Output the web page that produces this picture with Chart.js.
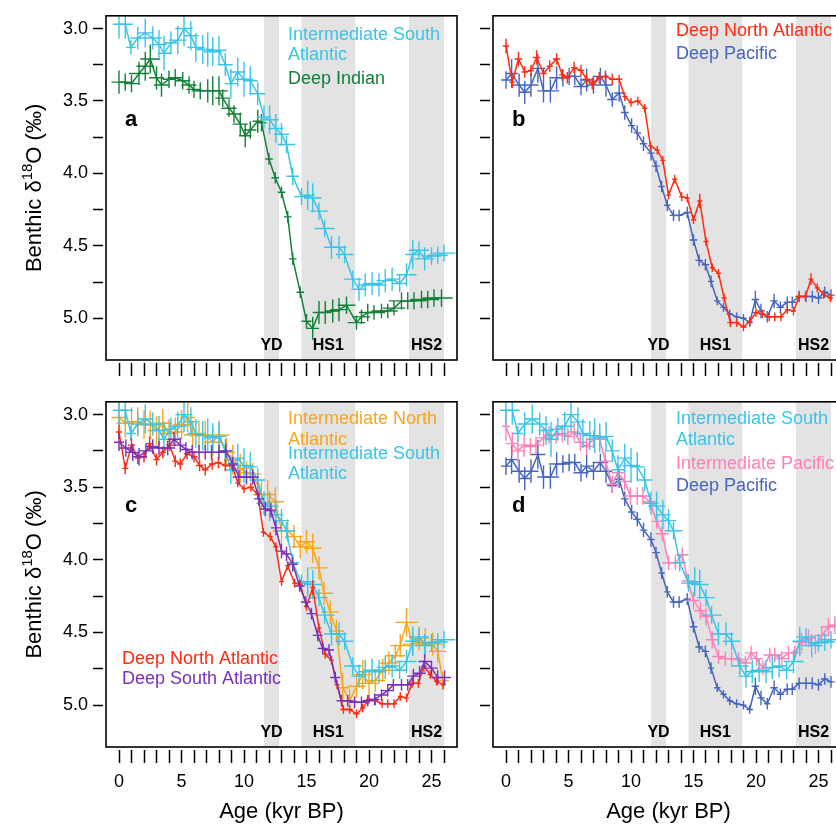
<!DOCTYPE html>
<html>
<head>
<meta charset="utf-8">
<script src="https://cdn.jsdelivr.net/npm/chart.js@4"></script>
<style>
  html, body { margin: 0; padding: 0; background: #fff; overflow: hidden; width: 836px; height: 827px; }
  canvas { position: absolute; }
</style>
</head>
<body>
<canvas id="pa" width="470" height="386" style="left:0;top:0"></canvas>
<canvas id="pb" width="390" height="386" style="left:470px;top:0"></canvas>
<canvas id="pc" width="470" height="441" style="left:0;top:386px"></canvas>
<canvas id="pd" width="390" height="441" style="left:470px;top:386px"></canvas>
<script>
const FONT = "'Liberation Sans', Arial, Helvetica, sans-serif"
Chart.defaults.font.family = FONT
Chart.defaults.color = '#000'

// axes
const xTicks = [0, 1, 2, 3, 4, 5, 6, 7, 8, 9, 10, 11, 12, 13, 14, 15, 16, 17, 18, 19, 20, 21, 22, 23, 24, 25, 26]
const yTicks = [3.0, 3.25, 3.5, 3.75, 4.0, 4.25, 4.5, 4.75, 5.0]
const xMin = -1.04, xMax = 27.04
const yMin = 2.912, yMax = 5.288
const xTitle = 'Age (kyr BP)'
const yTitle = ['Benthic \u03b4', '18', 'O (\u2030)']

// climate events, kyr BP
const bandNames = ['YD', 'HS1', 'HS2']
const bandStart = [11.6, 14.6, 23.2]
const bandEnd = [12.8, 18.9, 26.0]

// Intermediate South Atlantic
const isaLabel = ['Intermediate South', 'Atlantic']
const isaAge = [0, 0.5, 0.95, 1.5, 2.1, 2.7, 3.2, 3.6, 4.15, 4.7, 5.2, 5.75, 6.15, 6.7, 7.1, 7.5, 8.0, 8.5, 8.95, 9.5, 10.0, 10.5, 11.1, 11.6, 12.05, 12.55, 13.0, 13.4, 13.9, 14.6, 15.1, 15.5, 16.0, 16.45, 17.0, 17.6, 18.05, 18.7, 19.2, 19.7, 20.25, 20.8, 21.3, 21.85, 22.45, 23.0, 23.5, 24.0, 24.45, 25.0, 25.5, 26.0]
const isaD18O = [2.97, 2.97, 3.13, 3.065, 3.03, 3.065, 3.11, 3.17, 3.10, 3.08, 3.0, 3.05, 3.13, 3.145, 3.145, 3.16, 3.15, 3.25, 3.38, 3.30, 3.35, 3.36, 3.45, 3.61, 3.63, 3.69, 3.73, 3.80, 4.02, 4.16, 4.15, 4.17, 4.26, 4.38, 4.51, 4.51, 4.56, 4.73, 4.80, 4.77, 4.76, 4.77, 4.74, 4.73, 4.76, 4.70, 4.56, 4.53, 4.59, 4.57, 4.565, 4.55]
const isaAgeErr = [0.5, 0.6, 0.4, 0.6, 0.6, 0.7, 0.6, 0.5, 0.6, 0.7, 0.7, 0.6, 0.7, 0.6, 0.5, 0.7, 0.6, 0.6, 0.5, 0.6, 0.7, 0.6, 0.6, 0.6, 0.7, 0.6, 0.6, 0.7, 0.5, 0.6, 0.6, 0.7, 0.7, 0.8, 0.6, 0.6, 0.7, 0.7, 0.6, 0.6, 0.7, 0.6, 0.7, 0.6, 0.6, 0.8, 0.6, 0.8, 0.8, 0.8, 0.8, 0.9]
const isaD18OErr = [0.1, 0.1, 0.05, 0.08, 0.1, 0.08, 0.1, 0.12, 0.08, 0.1, 0.12, 0.1, 0.1, 0.1, 0.12, 0.1, 0.1, 0.08, 0.1, 0.1, 0.12, 0.1, 0.08, 0.08, 0.1, 0.1, 0.08, 0.06, 0.06, 0.06, 0.1, 0.1, 0.06, 0.06, 0.08, 0.08, 0.06, 0.06, 0.08, 0.08, 0.08, 0.08, 0.08, 0.08, 0.06, 0.08, 0.1, 0.06, 0.08, 0.06, 0.06, 0.06]

// Deep Indian
const diLabel = ['Deep Indian']
const diAge = [0, 0.5, 1.0, 1.6, 2.1, 2.5, 3.0, 3.4, 4.0, 4.5, 5.1, 5.6, 6.0, 6.5, 7.1, 7.5, 8.0, 8.3, 8.8, 9.2, 9.7, 10.1, 10.5, 11.1, 11.4, 12.0, 12.5, 13.0, 13.5, 13.9, 14.5, 15.0, 15.5, 16.0, 16.5, 17.1, 17.6, 18.2, 19.0, 19.4, 19.9, 20.4, 21.0, 21.5, 22.0, 22.6, 23.1, 23.6, 24.2, 24.7, 25.2, 25.8]
const diD18O = [3.37, 3.37, 3.38, 3.31, 3.26, 3.21, 3.34, 3.39, 3.35, 3.34, 3.36, 3.39, 3.42, 3.43, 3.43, 3.43, 3.43, 3.48, 3.55, 3.59, 3.66, 3.74, 3.70, 3.64, 3.65, 3.90, 4.03, 4.13, 4.30, 4.59, 4.82, 5.02, 5.07, 4.96, 4.96, 4.95, 4.94, 4.91, 5.03, 4.99, 4.96, 4.96, 4.95, 4.95, 4.93, 4.88, 4.88, 4.88, 4.87, 4.87, 4.86, 4.86]
const diAgeErr = [0.6, 0.6, 0.6, 0.8, 0.7, 0.8, 0.6, 0.6, 0.5, 0.6, 0.6, 0.6, 0.6, 0.7, 0.7, 0.7, 0.7, 0.6, 0.6, 0.6, 0.6, 0.5, 0.5, 0.4, 0.4, 0.3, 0.3, 0.3, 0.3, 0.3, 0.3, 0.4, 0.5, 0.5, 0.5, 0.6, 0.7, 0.7, 0.7, 0.7, 0.7, 0.9, 0.8, 0.8, 0.9, 1.0, 1.0, 1.0, 0.9, 0.9, 0.9, 0.9]
const diD18OErr = [0.08, 0.06, 0.06, 0.08, 0.1, 0.1, 0.08, 0.08, 0.06, 0.06, 0.06, 0.06, 0.06, 0.06, 0.08, 0.1, 0.1, 0.06, 0.06, 0.06, 0.08, 0.08, 0.06, 0.08, 0.06, 0.04, 0.04, 0.04, 0.04, 0.04, 0.04, 0.05, 0.08, 0.08, 0.08, 0.08, 0.08, 0.06, 0.05, 0.05, 0.06, 0.05, 0.05, 0.05, 0.05, 0.06, 0.06, 0.06, 0.06, 0.06, 0.06, 0.06]

// Deep North Atlantic
const dnaLabel = ['Deep North Atlantic']
const dnaAge = [0, 0.5, 1.0, 1.5, 2.0, 2.45, 3.0, 3.5, 4.05, 4.5, 4.9, 5.45, 6.0, 6.45, 6.9, 7.45, 7.95, 8.5, 9.05, 9.5, 10.0, 10.55, 11.1, 11.55, 12.1, 12.55, 13.0, 13.5, 14.05, 14.5, 15.0, 15.5, 16.0, 16.5, 17.0, 17.45, 17.95, 18.45, 19.0, 19.5, 20.0, 20.5, 21.05, 21.5, 22.0, 22.5, 23.0, 23.45, 23.95, 24.4, 24.9, 25.4, 25.95]
const dnaD18O = [3.12, 3.37, 3.21, 3.30, 3.29, 3.20, 3.31, 3.26, 3.21, 3.32, 3.34, 3.27, 3.29, 3.35, 3.38, 3.34, 3.33, 3.35, 3.35, 3.47, 3.51, 3.50, 3.55, 3.81, 3.84, 3.91, 4.15, 4.04, 4.16, 4.17, 4.32, 4.19, 4.47, 4.65, 4.69, 4.86, 5.03, 5.03, 5.06, 5.02, 4.96, 4.97, 4.99, 4.99, 4.99, 4.94, 4.95, 4.85, 4.85, 4.73, 4.79, 4.835, 4.86]
const dnaAgeErr = [0.25, 0.25, 0.3, 0.25, 0.25, 0.3, 0.25, 0.25, 0.3, 0.25, 0.25, 0.25, 0.25, 0.3, 0.25, 0.25, 0.25, 0.25, 0.25, 0.2, 0.2, 0.25, 0.2, 0.2, 0.2, 0.2, 0.2, 0.2, 0.2, 0.2, 0.2, 0.2, 0.2, 0.2, 0.2, 0.2, 0.25, 0.25, 0.25, 0.2, 0.25, 0.25, 0.25, 0.25, 0.25, 0.2, 0.2, 0.25, 0.2, 0.2, 0.2, 0.2, 0.2]
const dnaD18OErr = [0.05, 0.04, 0.05, 0.04, 0.04, 0.05, 0.04, 0.04, 0.04, 0.04, 0.04, 0.04, 0.04, 0.04, 0.04, 0.04, 0.04, 0.04, 0.03, 0.03, 0.03, 0.03, 0.03, 0.03, 0.03, 0.03, 0.03, 0.03, 0.03, 0.03, 0.03, 0.05, 0.03, 0.03, 0.03, 0.03, 0.03, 0.03, 0.03, 0.03, 0.03, 0.03, 0.03, 0.03, 0.03, 0.03, 0.03, 0.03, 0.03, 0.04, 0.03, 0.03, 0.03]

// Deep Pacific
const dpLabel = ['Deep Pacific']
const dpAge = [0, 0.45, 1.05, 1.5, 2.0, 2.55, 3.0, 3.55, 4.05, 4.55, 5.05, 5.5, 6.0, 6.45, 7.0, 7.55, 8.0, 8.5, 9.05, 9.5, 10.05, 10.5, 11.0, 11.6, 12.0, 12.45, 12.9, 13.4, 13.85, 14.5, 15.0, 15.45, 15.95, 16.4, 16.9, 17.4, 17.9, 18.45, 19.0, 19.5, 19.95, 20.4, 20.9, 21.45, 21.95, 22.5, 22.9, 23.45, 24.0, 24.5, 25.0, 25.5, 26.0]
const dpD18O = [3.355, 3.31, 3.39, 3.44, 3.39, 3.275, 3.43, 3.43, 3.34, 3.34, 3.33, 3.33, 3.40, 3.355, 3.39, 3.33, 3.39, 3.49, 3.445, 3.58, 3.67, 3.72, 3.795, 3.86, 3.95, 4.09, 4.22, 4.29, 4.29, 4.27, 4.46, 4.60, 4.63, 4.745, 4.88, 4.925, 4.97, 4.99, 5.0, 5.03, 4.87, 4.95, 4.99, 4.88, 4.925, 4.89, 4.89, 4.85, 4.85, 4.85, 4.86, 4.82, 4.84]
const dpAgeErr = [0.4, 0.5, 0.6, 0.5, 0.6, 0.6, 0.5, 0.7, 0.6, 0.6, 0.6, 0.5, 0.6, 0.5, 0.6, 0.6, 0.5, 0.4, 0.4, 0.3, 0.3, 0.3, 0.3, 0.3, 0.3, 0.25, 0.25, 0.3, 0.3, 0.3, 0.3, 0.3, 0.3, 0.25, 0.25, 0.25, 0.25, 0.25, 0.25, 0.25, 0.3, 0.3, 0.25, 0.3, 0.3, 0.3, 0.3, 0.3, 0.3, 0.3, 0.3, 0.3, 0.3]
const dpD18OErr = [0.06, 0.1, 0.08, 0.08, 0.08, 0.1, 0.08, 0.08, 0.08, 0.06, 0.06, 0.06, 0.06, 0.08, 0.06, 0.06, 0.08, 0.05, 0.06, 0.05, 0.05, 0.05, 0.05, 0.05, 0.04, 0.04, 0.04, 0.04, 0.04, 0.04, 0.04, 0.04, 0.04, 0.04, 0.03, 0.03, 0.03, 0.03, 0.03, 0.03, 0.06, 0.05, 0.04, 0.05, 0.04, 0.04, 0.04, 0.04, 0.04, 0.04, 0.04, 0.04, 0.04]

// Intermediate North Atlantic
const inaLabel = ['Intermediate North', 'Atlantic']
const inaAge = [0, 0.5, 1.0, 1.5, 2.0, 2.5, 3.0, 3.5, 4.0, 4.5, 5.0, 5.5, 5.9, 6.4, 6.9, 7.5, 8.0, 8.6, 9.1, 9.7, 10.2, 10.7, 11.4, 11.9, 12.5, 13.0, 13.5, 14.0, 14.5, 15.0, 15.5, 16.0, 16.4, 16.9, 17.4, 17.9, 18.45, 19.0, 19.5, 20.0, 20.5, 21.1, 21.6, 22.1, 22.5, 23.0, 23.5, 24.0, 24.5, 25.1, 25.5, 25.9]
const inaD18O = [3.02, 3.06, 3.05, 3.05, 3.07, 3.07, 3.11, 3.06, 3.13, 3.12, 3.07, 3.02, 3.14, 3.14, 3.14, 3.19, 3.14, 3.26, 3.31, 3.37, 3.40, 3.41, 3.55, 3.55, 3.60, 3.80, 3.80, 3.84, 3.91, 3.875, 3.92, 4.055, 4.23, 4.36, 4.49, 4.88, 4.97, 4.87, 4.79, 4.85, 4.83, 4.76, 4.71, 4.66, 4.59, 4.43, 4.58, 4.54, 4.57, 4.58, 4.63, 4.83]
const inaAgeErr = [0.6, 0.7, 0.6, 0.7, 0.7, 0.8, 0.7, 0.7, 0.7, 0.7, 0.7, 0.6, 0.7, 0.7, 0.8, 0.7, 0.8, 0.7, 0.7, 0.7, 0.7, 0.7, 0.7, 0.6, 0.7, 0.7, 0.6, 0.7, 0.7, 0.7, 0.7, 0.7, 0.7, 0.7, 0.6, 0.5, 0.6, 0.7, 0.7, 0.8, 0.8, 0.8, 0.7, 0.8, 0.8, 0.9, 0.8, 0.8, 0.8, 0.8, 0.7, 0.5]
const inaD18OErr = [0.12, 0.1, 0.1, 0.1, 0.1, 0.1, 0.1, 0.1, 0.1, 0.1, 0.1, 0.1, 0.1, 0.1, 0.1, 0.1, 0.1, 0.1, 0.1, 0.1, 0.08, 0.08, 0.1, 0.1, 0.1, 0.1, 0.08, 0.08, 0.08, 0.08, 0.1, 0.08, 0.08, 0.08, 0.08, 0.1, 0.08, 0.08, 0.1, 0.08, 0.08, 0.08, 0.08, 0.08, 0.08, 0.1, 0.08, 0.08, 0.1, 0.08, 0.08, 0.06]

// Deep South Atlantic
const dsaLabel = ['Deep South Atlantic']
const dsaAge = [0, 0.55, 1.1, 1.6, 2.15, 2.7, 3.2, 3.9, 4.4, 4.9, 5.35, 5.85, 6.4, 6.9, 7.4, 8.0, 8.55, 9.1, 9.6, 10.2, 10.7, 11.2, 11.7, 12.15, 12.55, 13.0, 13.4, 13.9, 14.45, 14.95, 15.4, 15.9, 16.3, 16.8, 17.3, 17.8, 18.3, 18.85, 19.4, 19.9, 20.45, 21.0, 21.5, 21.95, 22.6, 23.1, 23.55, 24.05, 24.45, 25.0, 25.5, 26.05]
const dsaD18O = [3.19, 3.23, 3.26, 3.29, 3.25, 3.22, 3.23, 3.23, 3.17, 3.21, 3.24, 3.26, 3.26, 3.26, 3.26, 3.26, 3.25, 3.34, 3.43, 3.43, 3.43, 3.58, 3.65, 3.66, 3.78, 3.94, 3.96, 4.03, 4.18, 4.29, 4.37, 4.52, 4.61, 4.62, 4.81, 4.97, 4.97, 4.98, 4.98, 4.97, 4.96, 4.93, 4.90, 4.86, 4.86, 4.86, 4.80, 4.78, 4.70, 4.745, 4.81, 4.81]
const dsaAgeErr = [0.4, 0.5, 0.5, 0.5, 0.5, 0.5, 0.5, 0.6, 0.5, 0.5, 0.5, 0.5, 0.5, 0.5, 0.5, 0.6, 0.5, 0.4, 0.5, 0.5, 0.5, 0.4, 0.4, 0.4, 0.4, 0.4, 0.4, 0.4, 0.4, 0.4, 0.4, 0.4, 0.4, 0.4, 0.4, 0.4, 0.4, 0.4, 0.4, 0.4, 0.4, 0.5, 0.5, 0.5, 0.5, 0.5, 0.5, 0.5, 0.5, 0.5, 0.5, 0.5]
const dsaD18OErr = [0.06, 0.06, 0.06, 0.06, 0.05, 0.05, 0.05, 0.05, 0.05, 0.05, 0.05, 0.05, 0.05, 0.05, 0.05, 0.05, 0.05, 0.05, 0.05, 0.05, 0.05, 0.05, 0.05, 0.05, 0.05, 0.05, 0.05, 0.05, 0.04, 0.04, 0.04, 0.04, 0.04, 0.04, 0.04, 0.04, 0.04, 0.04, 0.04, 0.04, 0.04, 0.04, 0.04, 0.04, 0.04, 0.04, 0.05, 0.05, 0.05, 0.05, 0.05, 0.05]

// Intermediate Pacific
const ipLabel = ['Intermediate Pacific']
const ipAge = [0, 0.5, 0.95, 1.45, 1.95, 2.4, 3.0, 3.45, 4.0, 4.5, 4.95, 5.45, 5.95, 6.45, 7.0, 7.5, 7.95, 8.5, 8.95, 9.5, 9.95, 10.5, 10.95, 11.5, 12.05, 12.5, 13.0, 13.55, 14.1, 14.55, 15.0, 15.55, 16.0, 16.5, 17.0, 17.55, 18.05, 18.6, 19.15, 19.6, 20.05, 20.55, 21.1, 21.5, 22.05, 22.6, 23.1, 23.65, 24.2, 24.75, 25.25, 25.8, 26.3]
const ipD18O = [3.08, 3.20, 3.25, 3.21, 3.22, 3.21, 3.16, 3.14, 3.14, 3.13, 3.15, 3.12, 3.19, 3.22, 3.17, 3.17, 3.32, 3.48, 3.40, 3.46, 3.56, 3.56, 3.56, 3.60, 3.735, 3.82, 4.02, 4.02, 3.965, 4.145, 4.28, 4.35, 4.39, 4.55, 4.665, 4.68, 4.68, 4.685, 4.71, 4.64, 4.68, 4.745, 4.655, 4.655, 4.68, 4.64, 4.64, 4.565, 4.54, 4.59, 4.52, 4.46, 4.45]
const ipAgeErr = [0.3, 0.5, 0.5, 0.5, 0.5, 0.5, 0.5, 0.5, 0.5, 0.5, 0.5, 0.5, 0.5, 0.5, 0.5, 0.5, 0.5, 0.5, 0.5, 0.5, 0.5, 0.5, 0.5, 0.5, 0.4, 0.5, 0.5, 0.5, 0.5, 0.5, 0.5, 0.5, 0.5, 0.5, 0.5, 0.5, 0.5, 0.5, 0.5, 0.5, 0.5, 0.5, 0.5, 0.5, 0.5, 0.6, 0.6, 0.6, 0.6, 0.6, 0.6, 0.6, 0.6]
const ipD18OErr = [0.1, 0.08, 0.08, 0.08, 0.06, 0.06, 0.06, 0.06, 0.06, 0.06, 0.06, 0.06, 0.06, 0.06, 0.06, 0.06, 0.06, 0.06, 0.06, 0.06, 0.06, 0.06, 0.06, 0.06, 0.05, 0.05, 0.05, 0.05, 0.05, 0.05, 0.06, 0.06, 0.06, 0.06, 0.05, 0.05, 0.05, 0.05, 0.05, 0.05, 0.05, 0.05, 0.05, 0.05, 0.05, 0.05, 0.05, 0.06, 0.06, 0.06, 0.06, 0.06, 0.06]

const colIsa = '#38c5e8'
const colDi = '#13803a'
const colDna = '#ff2a10'
const colDp = '#4565be'
const colIna = '#f8a51c'
const colDsa = '#7a30b8'
const colIp = '#ff7fb8'
const bandColor = '#e3e3e3'

function series(color, age, d18o, ageErr, d18oErr) {
  return {
    borderColor: color,
    backgroundColor: color,
    borderWidth: 1.5,
    pointRadius: 0,
    tension: 0,
    fill: false,
    data: age.map((a, i) => ({ x: a, y: d18o[i] })),
    xErr: ageErr,
    yErr: d18oErr
  }
}

const decor = {
  id: 'decor',
  beforeDatasetsDraw(chart, args, o) {
    const { ctx, chartArea: a, scales: { x } } = chart
    ctx.save()
    ctx.fillStyle = bandColor
    bandStart.forEach((s, i) => {
      const x0 = Math.max(x.getPixelForValue(s), a.left)
      const x1 = Math.min(x.getPixelForValue(bandEnd[i]), a.right)
      ctx.fillRect(x0, a.top, x1 - x0, a.bottom - a.top)
    })
    ctx.fillStyle = '#000'
    ctx.font = 'bold 16px ' + FONT
    ctx.textAlign = 'center'
    ctx.textBaseline = 'alphabetic'
    bandNames.forEach((n, i) => {
      ctx.fillText(n, x.getPixelForValue((bandStart[i] + bandEnd[i]) / 2), a.bottom - 10)
    })
    ctx.restore()
  },
  afterDatasetDraw(chart, args) {
    const { ctx, chartArea: a, scales: { x, y } } = chart
    const ds = chart.data.datasets[args.index]
    ctx.save()
    ctx.beginPath()
    ctx.rect(a.left, a.top, a.right - a.left, a.bottom - a.top)
    ctx.clip()
    ctx.strokeStyle = ds.borderColor
    ctx.lineWidth = 1.4
    ctx.beginPath()
    ds.data.forEach((p, i) => {
      const px = x.getPixelForValue(p.x), py = y.getPixelForValue(p.y)
      ctx.moveTo(x.getPixelForValue(p.x - ds.xErr[i]), py)
      ctx.lineTo(x.getPixelForValue(p.x + ds.xErr[i]), py)
      ctx.moveTo(px, y.getPixelForValue(p.y - ds.yErr[i]))
      ctx.lineTo(px, y.getPixelForValue(p.y + ds.yErr[i]))
    })
    ctx.stroke()
    ctx.restore()
  },
  afterDraw(chart, args, o) {
    const { ctx, chartArea: a } = chart
    ctx.save()
    ctx.strokeStyle = '#000'
    ctx.lineWidth = 1.6
    ctx.strokeRect(a.left, a.top, a.right - a.left, a.bottom - a.top)
    ctx.fillStyle = '#000'
    ctx.font = 'bold 22px ' + FONT
    ctx.textAlign = 'left'
    ctx.textBaseline = 'alphabetic'
    ctx.fillText(o.letter, a.left + 19, a.top + 110)
    ctx.font = '18px ' + FONT
    o.legend.forEach(item => {
      ctx.fillStyle = item.color
      item.lines.forEach((t, k) => ctx.fillText(t, a.left + item.dx, a.top + item.dy[k]))
    })
    if (o.yTitle) {
      ctx.translate(41, (a.top + a.bottom) / 2)
      ctx.rotate(-Math.PI / 2)
      ctx.fillStyle = '#000'
      ctx.font = '22px ' + FONT
      const w1 = ctx.measureText(yTitle[0]).width, w3 = ctx.measureText(yTitle[2]).width
      ctx.font = '15px ' + FONT
      const w2 = ctx.measureText(yTitle[1]).width
      let px = -(w1 + w2 + w3) / 2
      ctx.font = '22px ' + FONT
      ctx.fillText(yTitle[0], px, 0)
      px += w1
      ctx.font = '15px ' + FONT
      ctx.fillText(yTitle[1], px, -9)
      px += w2
      ctx.font = '22px ' + FONT
      ctx.fillText(yTitle[2], px, 0)
    }
    ctx.restore()
  }
}

function xScale(showLabels, height) {
  return {
    type: 'linear', min: xMin, max: xMax,
    afterBuildTicks: s => { s.ticks = xTicks.map(v => ({ value: v })) },
    afterFit: s => { s.height = height },
    ticks: {
      autoSkip: false, maxRotation: 0, minRotation: 0, padding: 8, font: { size: 18 }, color: '#000',
      callback: v => (showLabels && v % 5 === 0) ? String(v) : ''
    },
    grid: {
      drawOnChartArea: false, drawTicks: true, tickLength: 16, tickWidth: 1.5, tickColor: '#000',
      tickBorderDash: [13, 3], tickBorderDashOffset: 13
    },
    border: { display: false },
    title: { display: showLabels, text: xTitle, font: { size: 22 }, color: '#000', padding: { top: 0, bottom: 2 } }
  }
}

function yScale(showLabels, width) {
  return {
    type: 'linear', reverse: true, min: yMin, max: yMax,
    afterBuildTicks: s => { s.ticks = yTicks.map(v => ({ value: v })) },
    afterFit: s => { s.width = width },
    ticks: {
      autoSkip: false, padding: 5, font: { size: 18 }, color: '#000',
      callback: v => (showLabels && Math.abs(v * 2 - Math.round(v * 2)) < 1e-9) ? v.toFixed(1) : ''
    },
    grid: {
      drawOnChartArea: false, drawTicks: true, tickLength: 13, tickWidth: 1.5, tickColor: '#000',
      tickBorderDash: [10, 3], tickBorderDashOffset: 0
    },
    border: { display: false }
  }
}

function panel(id, sets, opt) {
  // later sets are drawn on top
  sets.forEach((s, i) => { s.order = sets.length - i })
  return new Chart(document.getElementById(id), {
    type: 'line',
    data: { datasets: sets },
    plugins: [decor],
    options: {
      responsive: false,
      animation: false,
      devicePixelRatio: 1,
      layout: { padding: { left: 0, top: opt.top, right: opt.right, bottom: 0 } },
      plugins: {
        legend: { display: false },
        tooltip: { enabled: false },
        decor: { letter: opt.letter, legend: opt.legend, yTitle: opt.yTitle }
      },
      scales: {
        x: xScale(opt.xLabels, opt.xHeight),
        y: yScale(opt.yTitle, opt.yWidth)
      }
    }
  })
}

panel('pa', [
  series(colDi, diAge, diD18O, diAgeErr, diD18OErr),
  series(colIsa, isaAge, isaD18O, isaAgeErr, isaD18OErr)
], {
  letter: 'a', top: 9, right: 13, yWidth: 106, xHeight: 26, xLabels: false, yTitle: true,
  legend: [
    { lines: isaLabel, color: colIsa, dx: 182, dy: [24, 44] },
    { lines: diLabel, color: colDi, dx: 182, dy: [68] }
  ]
})

panel('pb', [
  series(colDp, dpAge, dpD18O, dpAgeErr, dpD18OErr),
  series(colDna, dnaAge, dnaD18O, dnaAgeErr, dnaD18OErr)
], {
  letter: 'b', top: 9, right: 16, yWidth: 23, xHeight: 26, xLabels: false, yTitle: false,
  legend: [
    { lines: dnaLabel, color: colDna, dx: 183, dy: [20] },
    { lines: dpLabel, color: colDp, dx: 183, dy: [43] }
  ]
})

panel('pc', [
  series(colIna, inaAge, inaD18O, inaAgeErr, inaD18OErr),
  series(colIsa, isaAge, isaD18O, isaAgeErr, isaD18OErr),
  series(colDna, dnaAge, dnaD18O, dnaAgeErr, dnaD18OErr),
  series(colDsa, dsaAge, dsaD18O, dsaAgeErr, dsaD18OErr)
], {
  letter: 'c', top: 10, right: 13, yWidth: 106, xHeight: 80, xLabels: true, yTitle: true,
  legend: [
    { lines: inaLabel, color: colIna, dx: 182, dy: [22, 43] },
    { lines: isaLabel, color: colIsa, dx: 182, dy: [57, 77] },
    { lines: dnaLabel, color: colDna, dx: 16, dy: [262] },
    { lines: dsaLabel, color: colDsa, dx: 16, dy: [282] }
  ]
})

panel('pd', [
  series(colDp, dpAge, dpD18O, dpAgeErr, dpD18OErr),
  series(colIp, ipAge, ipD18O, ipAgeErr, ipD18OErr),
  series(colIsa, isaAge, isaD18O, isaAgeErr, isaD18OErr)
], {
  letter: 'd', top: 10, right: 16, yWidth: 23, xHeight: 80, xLabels: true, yTitle: false,
  legend: [
    { lines: isaLabel, color: colIsa, dx: 183, dy: [22, 43] },
    { lines: ipLabel, color: colIp, dx: 183, dy: [67] },
    { lines: dpLabel, color: colDp, dx: 183, dy: [89] }
  ]
})
</script>
</body>
</html>
